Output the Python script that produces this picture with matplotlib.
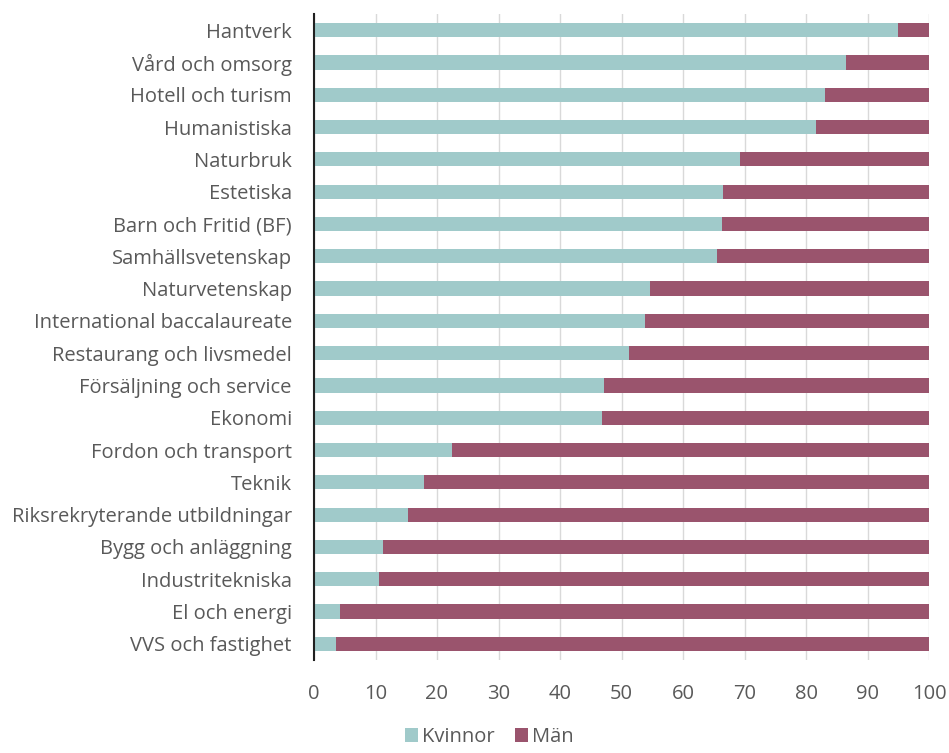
import matplotlib
matplotlib.use("Agg")
import matplotlib.pyplot as plt
import numpy as np

categories = ["Hantverk", "Vård och omsorg", "Hotell och turism", "Humanistiska",
              "Naturbruk", "Estetiska", "Barn och Fritid (BF)", "Samhällsvetenskap",
              "Naturvetenskap", "International baccalaureate", "Restaurang och livsmedel",
              "Försäljning och service", "Ekonomi", "Fordon och transport", "Teknik",
              "Riksrekryterande utbildningar", "Bygg och anläggning", "Industritekniska",
              "El och energi", "VVS och fastighet"]
kvinnor = [95.0, 86.5, 83.1, 81.7, 69.3, 66.5, 66.3, 65.5, 54.6, 53.8,
           51.3, 47.2, 46.9, 22.4, 17.9, 15.3, 11.3, 10.6, 4.3, 3.6]
man = [100 - v for v in kvinnor]
xticks = [0, 10, 20, 30, 40, 50, 60, 70, 80, 90, 100]

plt.rcParams['font.family'] = ['Open Sans', 'DejaVu Sans']
teal = "#A0CACA"
maroon = "#9A546D"
txt = "#595959"

fig = plt.figure(figsize=(9.49, 7.53), dpi=100)
ax = fig.add_axes([314/949, 1 - 660/753, (929-314)/949, (660-14)/753])

y = np.arange(len(categories))
ax.barh(y, kvinnor, height=0.44, color=teal, label="Kvinnor", zorder=2)
ax.barh(y, man, left=kvinnor, height=0.44, color=maroon, label="Män", zorder=2)

ax.set_ylim(len(categories) - 0.5, -0.5)
ax.set_xlim(0, 100)
ax.set_yticks(y)
ax.set_yticklabels(categories, fontsize=14.5, color=txt)
ax.set_xticks(xticks)
ax.set_xticklabels([str(t) for t in xticks], fontsize=14.5, color=txt)
ax.tick_params(axis='both', length=0)
ax.tick_params(axis='y', pad=16)
ax.tick_params(axis='x', pad=17)
ax.xaxis.grid(True, color="#D9D9D9", linewidth=1, zorder=0)
for s in ["top", "right", "bottom"]:
    ax.spines[s].set_visible(False)
ax.spines["left"].set_color("#202020")
ax.spines["left"].set_linewidth(1.5)
ax.spines["left"].set_zorder(3)

fig.legend(loc="lower center", bbox_to_anchor=(0.516, -0.016), ncol=2, frameon=False,
           fontsize=14.5, labelcolor=txt, handlelength=0.65, handleheight=0.65,
           handletextpad=0.2, columnspacing=1.0)

fig.savefig("out.png", dpi=100)
